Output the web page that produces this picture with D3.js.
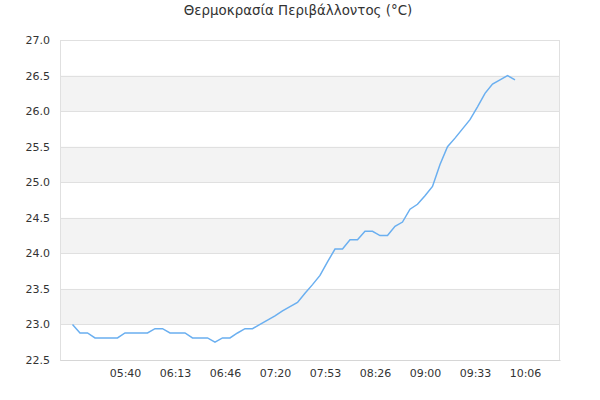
<!DOCTYPE html>
<html><head><meta charset="utf-8">
<script src="https://cdn.jsdelivr.net/npm/d3@7"></script>
<style>body{margin:0;background:#fff;}svg{display:block;font-family:"DejaVu Sans",sans-serif;}</style>
</head><body><svg id="c" width="600" height="400"></svg>
<script>
const title = "Θερμοκρασία Περιβάλλοντος (°C)";
const startTime = "05:05";
const stepMinutes = 5;
const temps = [23.0,22.88,22.88,22.81,22.81,22.81,22.81,22.88,22.88,22.88,
  22.88,22.94,22.94,22.88,22.88,22.88,22.81,22.81,22.81,22.75,
  22.81,22.81,22.88,22.94,22.94,23.0,23.06,23.12,23.19,23.25,
  23.31,23.44,23.56,23.69,23.88,24.06,24.06,24.19,24.19,24.31,
  24.31,24.25,24.25,24.38,24.44,24.62,24.69,24.81,24.94,25.25,
  25.5,25.62,25.75,25.88,26.06,26.25,26.38,26.44,26.5,26.44];
const xTickLabels = ["05:40","06:13","06:46","07:20","07:53","08:26","09:00","09:33","10:06"];
const yTicks = [22.5,23.0,23.5,24.0,24.5,25.0,25.5,26.0,26.5,27.0];
const xDomain = ["04:56:40","10:30:00"];
const xTickTimes = ["05:40:00","06:13:20","06:46:40","07:20:00","07:53:20","08:26:40","09:00:00","09:33:20","10:06:40"];

const parse = s => { const p = s.split(":").map(Number); return new Date(2020,0,1,p[0],p[1],p[2]||0); };
const t0 = parse(startTime);
const data = temps.map((v,i)=>({t:new Date(t0.getTime()+i*stepMinutes*60000), v}));

const svg = d3.select("#c");
const m = {l:60, r:40, t:40, b:40};
const W = 600, H = 400;
const x = d3.scaleTime().domain(xDomain.map(parse)).range([m.l, W-m.r]);
const y = d3.scaleLinear().domain([22.5,27.0]).range([H-m.b, m.t]);

// alternating bands
const g = svg.append("g");
for (let i=0;i<yTicks.length-1;i++){
  if (i%2===1){
    g.append("rect").attr("x",m.l).attr("width",W-m.r-m.l)
      .attr("y",y(yTicks[i+1])).attr("height",y(yTicks[i])-y(yTicks[i+1]))
      .attr("fill","#f3f3f3");
  }
}
// grid lines
g.selectAll("line.grid").data(yTicks).join("line")
  .attr("x1",m.l).attr("x2",W-m.r).attr("y1",d=>Math.round(y(d))+0.5).attr("y2",d=>Math.round(y(d))+0.5)
  .attr("stroke","#e0e0e0");
// border
svg.append("rect").attr("x",m.l+0.5).attr("y",m.t+0.5).attr("width",W-m.r-m.l-1).attr("height",H-m.b-m.t)
  .attr("fill","none").attr("stroke","#e0e0e0");

// y axis labels
const ya = svg.append("g").attr("transform",`translate(${m.l},0)`)
  .call(d3.axisLeft(y).tickValues(yTicks).tickFormat(d3.format(".1f")).tickSize(0).tickPadding(10));
ya.select(".domain").remove();
ya.selectAll("text").attr("fill","#333").attr("font-size",11).attr("font-family","DejaVu Sans, sans-serif");

// x axis labels
const xa = svg.append("g").attr("transform",`translate(0,${H-m.b})`)
  .call(d3.axisBottom(x).tickValues(xTickTimes.map(parse)).tickFormat((d,i)=>xTickLabels[i]).tickSize(0).tickPadding(9));
xa.select(".domain").attr("stroke","#d6d6d6");
xa.selectAll("text").attr("fill","#333").attr("font-size",11).attr("font-family","DejaVu Sans, sans-serif");

// line
svg.append("path").datum(data)
  .attr("fill","none").attr("stroke","#6aaff0").attr("stroke-width",1.5)
  .attr("d", d3.line().x(d=>x(d.t)).y(d=>y(d.v)));

svg.append("text").attr("x",298).attr("y",15).attr("text-anchor","middle")
  .attr("font-size",13.4).attr("fill","#333").text(title);
</script></body></html>
